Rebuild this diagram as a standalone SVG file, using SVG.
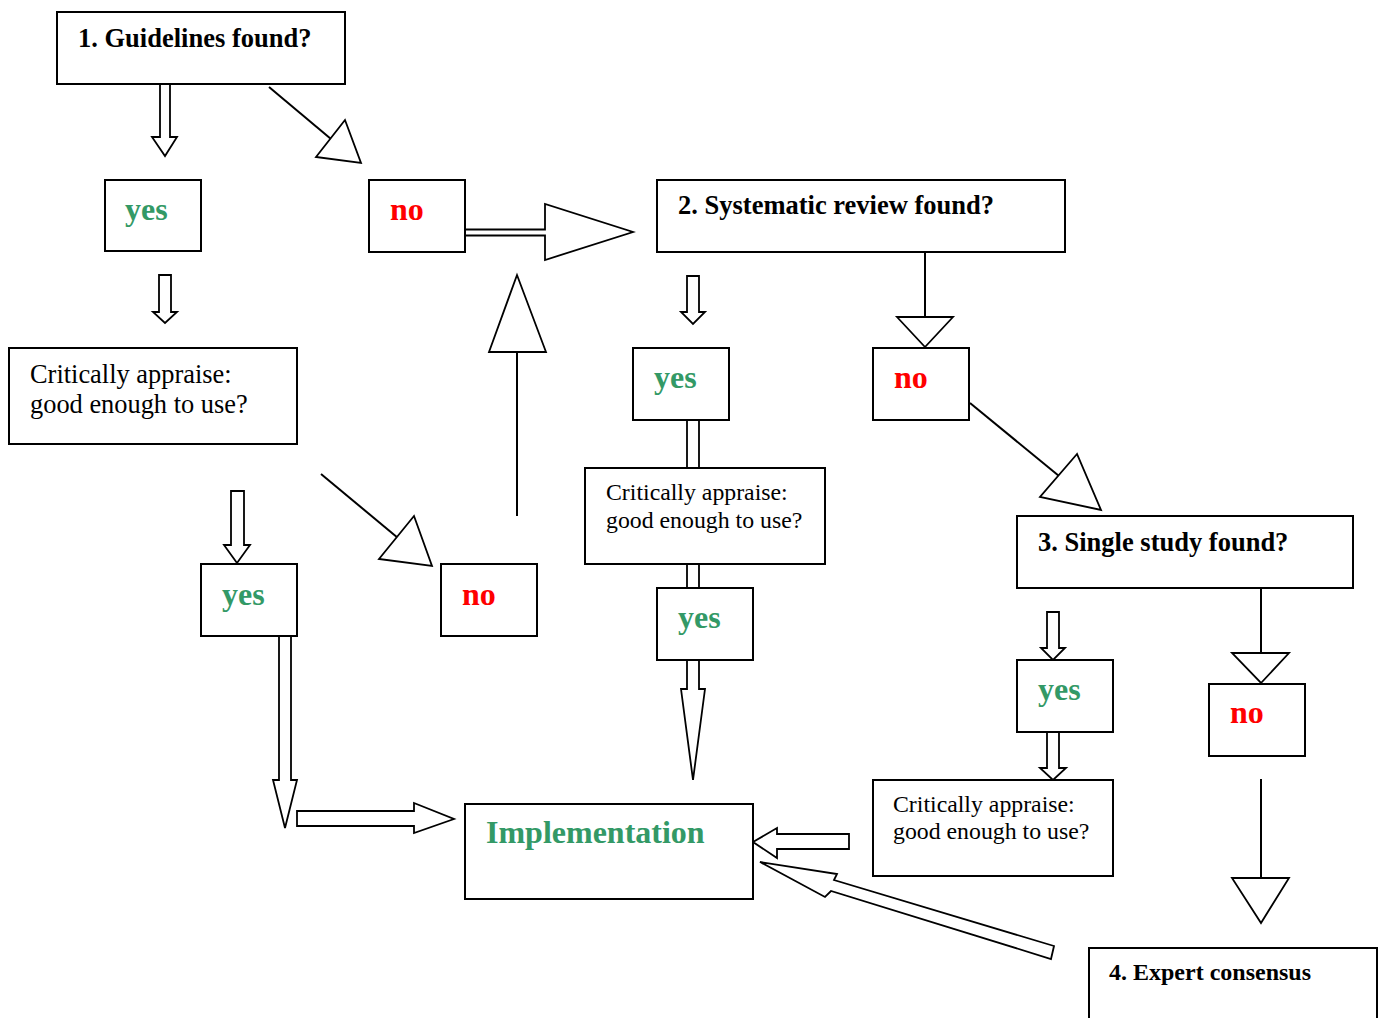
<svg xmlns="http://www.w3.org/2000/svg" width="1387" height="1018" viewBox="0 0 1387 1018">
<style>
.box{fill:#fff;stroke:#000;stroke-width:2}
.ln{fill:none;stroke:#000;stroke-width:2}
.hd{fill:#fff;stroke:#000;stroke-width:1.8;stroke-linejoin:miter}
.blk{fill:#fff;stroke:#000;stroke-width:1.8;stroke-linejoin:miter}
.t{font-family:"Liberation Serif","Times New Roman",serif;fill:#000}
.h{font-size:26.5px;font-weight:bold}
.h2{font-size:24px;font-weight:bold}
.r{font-size:26.4px}
.r2{font-size:23.8px}
.yes{font-family:"Liberation Serif","Times New Roman",serif;font-size:32px;font-weight:bold;fill:#339966}
.no{font-family:"Liberation Serif","Times New Roman",serif;font-size:32px;font-weight:bold;fill:#ff0000}
.imp{font-family:"Liberation Serif","Times New Roman",serif;font-size:32px;font-weight:bold;fill:#339966}
</style>
<rect width="1387" height="1018" fill="#fff"/>
<g id="connectors">
  <!-- box1 -> yes1 -->
  <polygon class="blk" points="160,84 170,84 170,137 177,137 165,156 152,137 160,137"/>
  <!-- box1 -> no1 -->
  <line class="ln" x1="269" y1="87" x2="331" y2="139"/>
  <polygon class="hd" points="345,120 316,157 361,163"/>
  <!-- no1 -> box2 -->
  <polygon class="blk" points="465,229.5 545,229.5 545,204 633,232 545,260 545,235.5 465,235.5"/>
  <!-- yes1 -> CA1 -->
  <polygon class="blk" points="159,275 171,275 171,312 177,312 165,323 153,312 159,312"/>
  <!-- CA1 -> yes2 -->
  <polygon class="blk" points="231,491 244,491 244,545 250,545 237,563 224,545 231,545"/>
  <!-- CA1 -> no2 -->
  <line class="ln" x1="321" y1="474" x2="398" y2="538"/>
  <polygon class="hd" points="414,516 379,559 432,566"/>
  <!-- no2 -> no1 -->
  <line class="ln" x1="517" y1="352" x2="517" y2="516"/>
  <polygon class="hd" points="517,275 546,352 489,352"/>
  <!-- yes2 -> Implementation -->
  <polygon class="blk" points="279,636 291,636 291,780 297,780 285,828 273,780 279,780"/>
  <polygon class="blk" points="297,811 414,811 414,803 454,819 414,833 414,826 297,826"/>
  <!-- box2 -> yes-sr -->
  <polygon class="blk" points="687,276 699,276 699,312 705,312 693,324 681,312 687,312"/>
  <!-- yes-sr -> CA2 -> yes3 -> Implementation -->
  <polygon class="blk" points="687,420 699,420 699,689 705,689 693,780 681,689 687,689"/>
  <!-- box2 -> no-sr -->
  <line class="ln" x1="925" y1="252" x2="925" y2="317"/>
  <polygon class="hd" points="897,317 953,317 925,347"/>
  <!-- no-sr -> box3 -->
  <line class="ln" x1="970" y1="403" x2="1059" y2="476"/>
  <polygon class="hd" points="1077,454 1040,497 1101,510"/>
  <!-- box3 -> yes4 -->
  <polygon class="blk" points="1047,612 1059,612 1059,648 1065,648 1053,660 1041,648 1047,648"/>
  <!-- yes4 -> CA3 -->
  <polygon class="blk" points="1047,732 1059,732 1059,768 1066,768 1053,780 1040,768 1047,768"/>
  <!-- CA3 -> Implementation -->
  <polygon class="blk" points="753,842 777,828 777,834 849,834 849,849 777,849 777,858"/>
  <!-- box4 -> Implementation -->
  <polygon class="blk" points="760,862 837,874 834,880 1054,946 1051,959 831,891 825,897"/>
  <!-- box3 -> no3 -->
  <line class="ln" x1="1261" y1="588" x2="1261" y2="653"/>
  <polygon class="hd" points="1232,653 1289,653 1261,683"/>
  <!-- no3 -> box4 -->
  <line class="ln" x1="1261" y1="779" x2="1261" y2="878"/>
  <polygon class="hd" points="1232,878 1289,878 1261,923"/>
</g>
<g id="n-guidelines">
  <rect class="box" x="57" y="12" width="288" height="72"/>
  <text class="t h" x="78" y="47">1. Guidelines found?</text>
</g>
<g id="n-yes1">
  <rect class="box" x="105" y="180" width="96" height="71"/>
  <text class="yes" x="125" y="220">yes</text>
</g>
<g id="n-no1">
  <rect class="box" x="369" y="180" width="96" height="72"/>
  <text class="no" x="390" y="220">no</text>
</g>
<g id="n-sysreview">
  <rect class="box" x="657" y="180" width="408" height="72"/>
  <text class="t h" x="678" y="214">2. Systematic review found?</text>
</g>
<g id="n-ca1">
  <rect class="box" x="9" y="348" width="288" height="96"/>
  <text class="t r" x="30" y="383">Critically appraise:</text>
  <text class="t r" x="30" y="413">good enough to use?</text>
</g>
<g id="n-yes-sr">
  <rect class="box" x="633" y="348" width="96" height="72"/>
  <text class="yes" x="654" y="388">yes</text>
</g>
<g id="n-no-sr">
  <rect class="box" x="873" y="348" width="96" height="72"/>
  <text class="no" x="894" y="388">no</text>
</g>
<g id="n-ca2">
  <rect class="box" x="585" y="468" width="240" height="96"/>
  <text class="t r2" x="606" y="500">Critically appraise:</text>
  <text class="t r2" x="606" y="528">good enough to use?</text>
</g>
<g id="n-single">
  <rect class="box" x="1017" y="516" width="336" height="72"/>
  <text class="t h" x="1038" y="551">3. Single study found?</text>
</g>
<g id="n-yes2">
  <rect class="box" x="201" y="564" width="96" height="72"/>
  <text class="yes" x="222" y="605">yes</text>
</g>
<g id="n-no2">
  <rect class="box" x="441" y="564" width="96" height="72"/>
  <text class="no" x="462" y="605">no</text>
</g>
<g id="n-yes3">
  <rect class="box" x="657" y="588" width="96" height="72"/>
  <text class="yes" x="678" y="628">yes</text>
</g>
<g id="n-yes4">
  <rect class="box" x="1017" y="660" width="96" height="72"/>
  <text class="yes" x="1038" y="700">yes</text>
</g>
<g id="n-no3">
  <rect class="box" x="1209" y="684" width="96" height="72"/>
  <text class="no" x="1230" y="723">no</text>
</g>
<g id="n-ca3">
  <rect class="box" x="873" y="780" width="240" height="96"/>
  <text class="t r2" x="893" y="812">Critically appraise:</text>
  <text class="t r2" x="893" y="839">good enough to use?</text>
</g>
<g id="n-implementation">
  <rect class="box" x="465" y="804" width="288" height="95"/>
  <text class="imp" x="486" y="843">Implementation</text>
</g>
<g id="n-expert">
  <rect class="box" x="1089" y="948" width="288" height="90"/>
  <text class="t h2" x="1109" y="980">4. Expert consensus</text>
</g>
</svg>
